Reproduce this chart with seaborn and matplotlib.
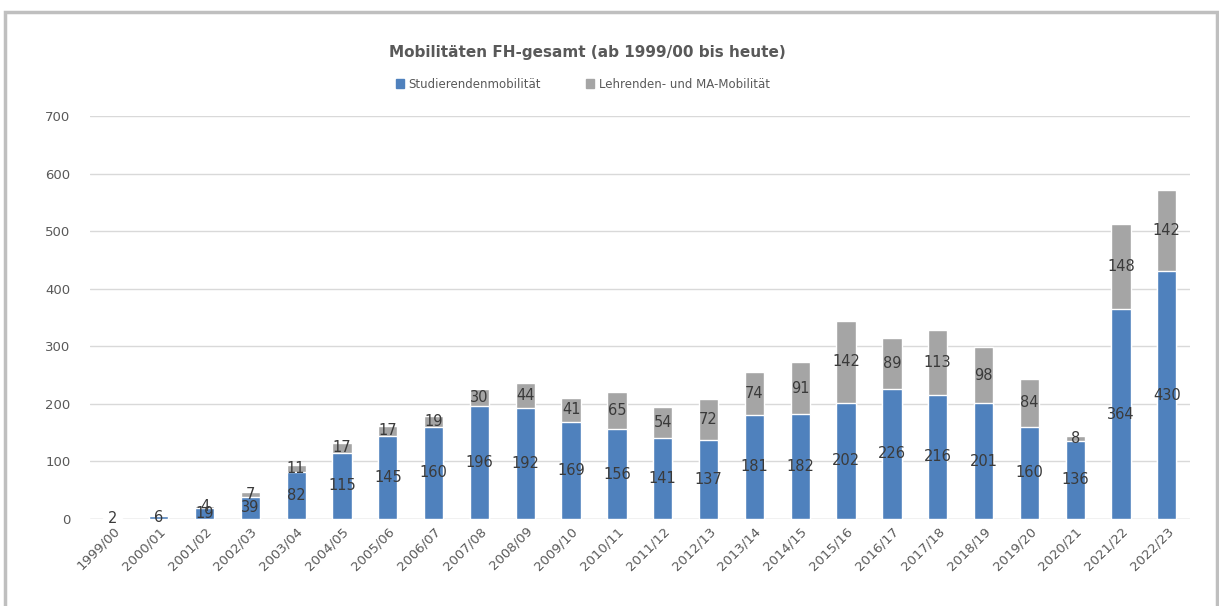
import numpy as np
import pandas as pd
import matplotlib
matplotlib.use("Agg")
import matplotlib.pyplot as plt
import seaborn as sns
from matplotlib.patches import Patch, Rectangle

jahre = ['1999/00', '2000/01', '2001/02', '2002/03', '2003/04', '2004/05', '2005/06',
         '2006/07', '2007/08', '2008/09', '2009/10', '2010/11', '2011/12', '2012/13',
         '2013/14', '2014/15', '2015/16', '2016/17', '2017/18', '2018/19', '2019/20',
         '2020/21', '2021/22', '2022/23']
studierende = [2, 6, 19, 39, 82, 115, 145, 160, 196, 192, 169, 156, 141, 137,
               181, 182, 202, 226, 216, 201, 160, 136, 364, 430]
lehrende = [0, 0, 4, 7, 11, 17, 17, 19, 30, 44, 41, 65, 54, 72,
            74, 91, 142, 89, 113, 98, 84, 8, 148, 142]

df = pd.DataFrame({'Jahr': jahre, 'Studierende': studierende, 'Lehrende': lehrende})
df['Gesamt'] = df['Studierende'] + df['Lehrende']

blau = '#4F81BD'
grau = '#A5A5A5'
textfarbe = '#3A3A3A'

sns.set_style("white")
fig = plt.figure(figsize=(12.19, 6.06), dpi=100)
ax = fig.add_axes([0.0738, 0.1436, 0.9022, 0.665])

# gesamt (grau) zuerst, dann Studierende (blau) darüber
sns.barplot(data=df, x='Jahr', y='Gesamt', color=grau, width=0.42, saturation=1, ax=ax, zorder=2)
sns.barplot(data=df, x='Jahr', y='Studierende', color=blau, width=0.42, saturation=1, ax=ax, zorder=3)

for i, (s, l) in enumerate(zip(studierende, lehrende)):
    ax.text(i, s / 2, str(s), ha='center', va='center', fontsize=10.5, color=textfarbe, zorder=5)
    if l > 0:
        ax.text(i, s + l / 2, str(l), ha='center', va='center', fontsize=10.5, color=textfarbe, zorder=5)

ax.set_ylim(0, 700)
ax.set_xlim(-0.5, len(jahre) - 0.5)
ax.set_yticks(range(0, 701, 100))
ax.yaxis.grid(True, color='#D9D9D9', linewidth=1, zorder=0)
ax.set_axisbelow(True)
for sp in ax.spines.values():
    sp.set_visible(False)
ax.set_xlabel('')
ax.set_ylabel('')
ax.tick_params(axis='y', colors='#595959', labelsize=9.5, length=0, pad=14)
ax.tick_params(axis='x', colors='#595959', labelsize=9.5, length=0, pad=4)
plt.setp(ax.get_xticklabels(), rotation=45, ha='right', rotation_mode='anchor')
ax.axhline(0, color='#D9D9D9', linewidth=1, zorder=1)

fig.text(0.482, 0.914, 'Mobilitäten FH-gesamt (ab 1999/00 bis heute)', ha='center', va='center',
         fontsize=11, fontweight='bold', color='#595959')
handles = [Patch(color=blau, label='Studierendenmobilität'),
           Patch(color=grau, label='Lehrenden- und MA-Mobilität')]
fig.legend(handles=handles, loc='center', bbox_to_anchor=(0.478, 0.861), ncol=2, frameon=False,
           fontsize=8.5, handlelength=0.7, handleheight=0.7, columnspacing=3.8, handletextpad=0.4,
           labelcolor='#595959')

# Rahmen des Screenshots
fig.patches.append(Rectangle((0.004, -0.01), 0.994, 0.99, transform=fig.transFigure,
                             fill=False, edgecolor='#BFBFBF', linewidth=2.5))

fig.savefig('out.png', dpi=100)
